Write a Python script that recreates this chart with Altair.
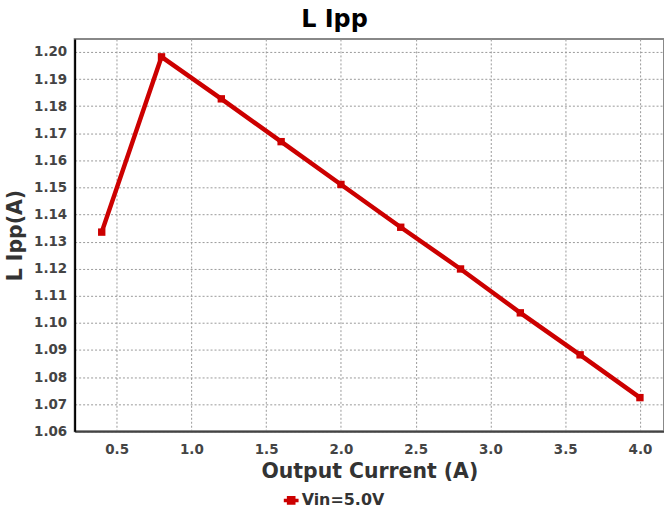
import altair as alt
import pandas as pd

current = [0.4, 0.8, 1.2, 1.6, 2.0, 2.4, 2.8, 3.2, 3.6, 4.0]
ipp = [1.1335, 1.1982, 1.1827, 1.1669, 1.1511, 1.1353, 1.1199, 1.1037, 1.0882, 1.0724]
series = ["Vin=5.0V"] * len(current)

df = pd.DataFrame({"current": current, "ipp": ipp, "series": series})

legend_symbol = "M-1,0L1,0M-0.35,-0.35L0.35,-0.35L0.35,0.35L-0.35,0.35Z"

base = alt.Chart(df).encode(
    x=alt.X("current:Q", scale=alt.Scale(domain=[0.219, 4.161], nice=False, zero=False),
            axis=alt.Axis(title="Output Current (A)", values=[0.5, 1.0, 1.5, 2.0, 2.5, 3.0, 3.5, 4.0],
                          format=".1f", domainColor="#444444", titlePadding=6)),
    y=alt.Y("ipp:Q", scale=alt.Scale(domain=[1.06, 1.2048], nice=False, zero=False),
            axis=alt.Axis(title="L Ipp(A)", values=[1.06 + i * 0.01 for i in range(15)],
                          format=".2f", domainColor="#000000", titlePadding=8)),
    color=alt.Color("series:N", scale=alt.Scale(range=["#CC0000"]),
                    legend=alt.Legend(title=None, orient="none", legendX=208, legendY=454,
                                      symbolType=legend_symbol, symbolSize=220,
                                      symbolStrokeWidth=3.5, symbolFillColor="#CC0000",
                                      labelFontSize=16, labelFontWeight="bold",
                                      labelColor="#333333", labelFont="DejaVu Sans",
                                      labelOffset=1)),
)

line = base.mark_line(strokeWidth=4.5)
pts = base.mark_point(shape="square", filled=True, size=55, opacity=1)

chart = (line + pts).properties(
    width=592, height=394,
    title=alt.TitleParams("L Ipp", fontSize=24, fontWeight="bold", color="#000000",
                          font="DejaVu Sans", anchor="middle", dx=-35, offset=7),
    autosize=alt.AutoSizeParams(type="none"),
    padding={"left": 75, "top": 38, "right": 0, "bottom": 83},
).configure_view(
    stroke="#888888", strokeWidth=2
).configure_axis(
    grid=True, gridColor="#999999", gridDash=[2, 2], gridWidth=1,
    ticks=False, labelFont="DejaVu Sans", labelFontSize=13.5, labelFontWeight="bold",
    labelColor="#444444", labelPadding=8, titleFont="DejaVu Sans", titleFontSize=20.5,
    titleFontWeight="bold", titleColor="#333333", domainWidth=2
).configure_axisX(labelPadding=11)

chart.save("out.html", embed_options={"renderer": "svg", "actions": False})
